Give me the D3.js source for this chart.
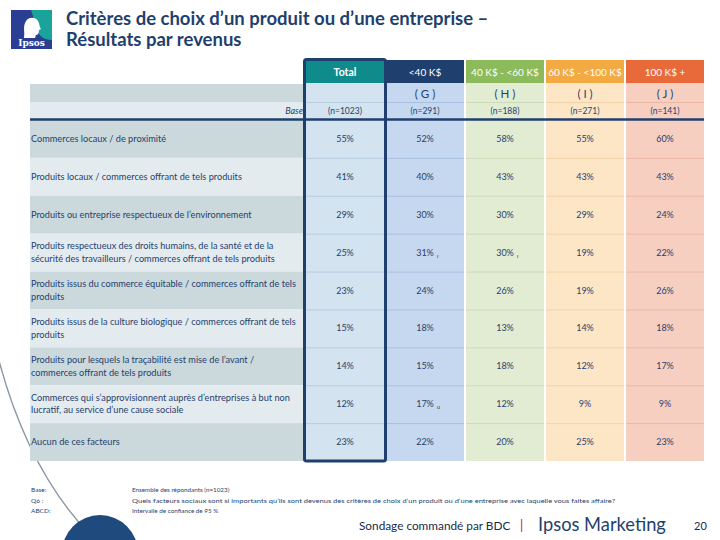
<!DOCTYPE html>
<html><head><meta charset="utf-8">
<script src="https://cdn.jsdelivr.net/npm/d3@7"></script>
<style>html,body{margin:0;padding:0;background:#fff;}svg{display:block;font-family:Lato,"Open Sans",sans-serif;}</style>
</head><body><svg id="c" width="720" height="540"></svg>
<script>
// ---------- DATA ----------
const titleLines = ["Critères de choix d’un produit ou d’une entreprise –", "Résultats par revenus"];
const categories = ["Total", "<40 K$", "40 K$ - <60 K$", "60 K$ - <100 K$", "100 K$ +"];
const columnLetters = ["", "( G )", "( H )", "( I )", "( J )"];
const baseSizes = ["(n=1023)", "(n=291)", "(n=188)", "(n=271)", "(n=141)"];
const rowLabels = [
  ["Commerces locaux / de proximité"],
  ["Produits locaux / commerces offrant de tels produits"],
  ["Produits ou entreprise respectueux de l’environnement"],
  ["Produits respectueux des droits humains, de la santé et de la", "sécurité des travailleurs / commerces offrant de tels produits"],
  ["Produits issus du commerce équitable / commerces offrant de tels", "produits"],
  ["Produits issus de la culture biologique / commerces offrant de tels", "produits"],
  ["Produits pour lesquels la traçabilité est mise de l’avant /", "commerces offrant de tels produits"],
  ["Commerces qui s’approvisionnent auprès d’entreprises à but non", "lucratif, au service d’une cause sociale"],
  ["Aucun de ces facteurs"]
];
const valuesTotal = [55, 41, 29, 25, 23, 15, 14, 12, 23];
const valuesLt40  = [52, 40, 30, 31, 24, 18, 15, 17, 22];
const values40_60 = [58, 43, 30, 30, 26, 13, 18, 12, 20];
const values60_100= [55, 43, 29, 19, 19, 14, 12, 9, 25];
const values100p  = [60, 43, 24, 22, 26, 18, 17, 9, 23];
const sigMarks = [
  {row: 3, col: 1, mark: "I"},
  {row: 3, col: 2, mark: "I"},
  {row: 7, col: 1, mark: "IJ"}
];
const footLabels = ["Base:", "Q6 :", "ABCD:"];
const footTexts = [
  "Ensemble des répondants (n=1023)",
  "Quels facteurs sociaux sont si importants qu’ils sont devenus des critères de choix d’un produit ou d’une entreprise avec laquelle vous faites affaire?",
  "Intervalle de confiance de 95 %"
];
const sponsorText = "Sondage commandé par BDC";
const brandText = "Ipsos Marketing";
const pageNumber = "20";

// ---------- STYLE ----------
const navy = "#1f3f6e";
const headFill = ["#0f8b8c", "#1f3f6e", "#8dba5b", "#f4aa42", "#e86a3a"];
const bodyFill = ["#d3e3ef", "#c6d8ef", "#e2ecd3", "#fde6c6", "#f7cfc1"];
const lineFill = ["#b8cde0", "#a8bfe0", "#cbdbb8", "#f0d2a8", "#ecb8a6"];
const labDark = "#cbd9dc", labLight = "#e4ebee";

const seriesValues = [valuesTotal, valuesLt40, values40_60, values60_100, values100p];

const svg = d3.select("#c");

// decorative background curve + circle
const dp = d3.path();
dp.moveTo(-5, 345);
dp.quadraticCurveTo(25, 470, 95, 540);
svg.append("path").attr("d", dp.toString()).attr("fill", "none").attr("stroke", "#8c98a3").attr("stroke-width", 1.4);
svg.append("circle").attr("cx", 100).attr("cy", 553).attr("r", 38).attr("fill", "#1f4a7e");

// logo
const logo = svg.append("g").attr("transform", "translate(11,10)");
logo.append("rect").attr("width", 41).attr("height", 39).attr("fill", "#2a3f93");
logo.append("path").attr("d", "M20,0 L41,0 L41,30 C33,30 28,26 26,20 C24,12 22,6 20,0 Z").attr("fill", "#19a39b");
logo.append("path").attr("d", "M13,28 C14,22 12,18 14,13 C16,7 24,6 27,11 C29,14 28,17 30,19 L28,20 C28,23 27,25 25,25 L24,28 Z").attr("fill", "#ffffff");
logo.append("text").attr("x", 20.5).attr("y", 36).attr("text-anchor", "middle")
  .attr("font-family", "'DejaVu Serif',serif").attr("font-weight", "bold").attr("font-size", 9).attr("fill", "#fff").text("Ipsos");

// title
svg.append("g").selectAll("text").data(titleLines).join("text")
  .attr("x", 66).attr("y", (d, i) => 25 + i * 20.5)
  .attr("font-size", 18.5).attr("font-weight", "bold").attr("fill", navy).text(d => d);

// scales
const x = d3.scaleBand().domain(categories).range([305, 705]).paddingInner(0);
const y = d3.scaleBand().domain(d3.range(rowLabels.length)).range([120, 461]);
const labelX0 = 30, labelX1 = 305;

// header left grey area
svg.append("rect").attr("x", labelX0).attr("y", 84).attr("width", labelX1 - labelX0).attr("height", 18).attr("fill", labDark);
svg.append("rect").attr("x", labelX0).attr("y", 102).attr("width", labelX1 - labelX0).attr("height", 17).attr("fill", labLight);
svg.append("text").attr("x", 303).attr("y", 114).attr("text-anchor", "end").attr("font-size", 9)
  .attr("font-style", "italic").attr("fill", navy).text("Base");

// label column rows
const rows = svg.append("g").selectAll("g").data(rowLabels).join("g");
rows.append("rect").attr("x", labelX0).attr("y", (d, i) => y(i)).attr("width", labelX1 - labelX0)
  .attr("height", y.bandwidth()).attr("fill", (d, i) => i % 2 === 0 ? labDark : labLight);
rows.append("text").attr("font-size", 9.2).attr("fill", navy)
  .each(function (d, i) {
    const t = d3.select(this);
    const lh = 12.5;
    const cy = y(i) + y.bandwidth() / 2;
    d.forEach((line, k) => {
      t.append("tspan").attr("x", 31)
        .attr("y", cy + 3 + (k - (d.length - 1) / 2) * lh).text(line);
    });
  });

// data columns
const cols = svg.append("g").selectAll("g").data(categories).join("g");
cols.each(function (cat, ci) {
  const g = d3.select(this);
  const x0 = x(cat) + (ci >= 2 ? 1 : 0);
  const w = x.bandwidth() - (ci >= 1 ? 1 : 0) - (ci >= 2 ? 1 : 0);
  const cx = x(cat) + x.bandwidth() / 2;
  // header
  g.append("rect").attr("x", x0).attr("y", 60).attr("width", w).attr("height", 23).attr("fill", headFill[ci]);
  g.append("text").attr("x", cx).attr("y", 76).attr("text-anchor", "middle")
    .attr("font-size", ci === 0 ? 10.5 : 10).attr("font-weight", ci === 0 ? "bold" : "normal")
    .attr("fill", "#fff").text(cat);
  // body background
  g.append("rect").attr("x", x0).attr("y", 83).attr("width", w).attr("height", 461 - 83).attr("fill", bodyFill[ci]);
  // letter row line
  g.append("line").attr("x1", x0).attr("x2", x0 + w).attr("y1", 102.5).attr("y2", 102.5).attr("stroke", lineFill[ci]).attr("stroke-width", 1);
  g.append("text").attr("x", cx).attr("y", 98).attr("text-anchor", "middle")
    .attr("font-size", 11.5).attr("fill", navy).text(columnLetters[ci]);
  g.append("text").attr("x", cx).attr("y", 114).attr("text-anchor", "middle")
    .attr("font-size", 8.5).attr("fill", navy).text(baseSizes[ci]);
  // row separators
  g.selectAll("line.sep").data(d3.range(1, rowLabels.length)).join("line").attr("class", "sep")
    .attr("x1", x0).attr("x2", x0 + w).attr("y1", r => y(r) + 0.5).attr("y2", r => y(r) + 0.5)
    .attr("stroke", lineFill[ci]).attr("stroke-width", 1);
  // values
  g.selectAll("text.val").data(seriesValues[ci]).join("text").attr("class", "val")
    .attr("x", cx).attr("y", (v, r) => y(r) + y.bandwidth() / 2 + 3)
    .attr("text-anchor", "middle").attr("font-size", 9).attr("fill", navy).text(v => v + "%");
});

// significance marks
svg.append("g").selectAll("text").data(sigMarks).join("text")
  .attr("x", d => x(categories[d.col]) + x.bandwidth() / 2 + 12)
  .attr("y", d => y(d.row) + y.bandwidth() / 2 + 5)
  .attr("font-size", 4).attr("font-weight", "bold").attr("fill", navy).text(d => d.mark);

// navy line under base row
svg.append("line").attr("x1", labelX0).attr("x2", 704).attr("y1", 119.5).attr("y2", 119.5)
  .attr("stroke", navy).attr("stroke-width", 2.5);

// Total column frame
svg.append("rect").attr("x", x("Total") - 0.5).attr("y", 59.5).attr("width", x.bandwidth() + 1).attr("height", 461 - 59.5)
  .attr("rx", 2).attr("fill", "none").attr("stroke", navy).attr("stroke-width", 3);

// footer notes
svg.append("g").selectAll("text").data(footLabels).join("text")
  .attr("x", 31).attr("y", (d, i) => 492 + i * 10.5).attr("font-size", 6.5).attr("fill", navy).text(d => d);
svg.append("g").selectAll("text").data(footTexts).join("text")
  .attr("x", 132).attr("y", (d, i) => 492 + i * 10.5).attr("font-size", 6.3).attr("fill", navy)
  .attr("textLength", (d, i) => i === 1 ? 483 : null).attr("lengthAdjust", "spacingAndGlyphs").text(d => d);

svg.append("text").attr("x", 359).attr("y", 530).attr("font-size", 11.8).attr("fill", "#1a2a48").text(sponsorText);
svg.append("text").attr("x", 520).attr("y", 530).attr("font-size", 13).attr("fill", "#d0202f").text("|");
svg.append("text").attr("x", 538).attr("y", 531).attr("font-size", 18.3).attr("fill", navy).text(brandText);
svg.append("text").attr("x", 694).attr("y", 530).attr("font-size", 11).attr("fill", "#1a2a48").text(pageNumber);
</script>
</body></html>
